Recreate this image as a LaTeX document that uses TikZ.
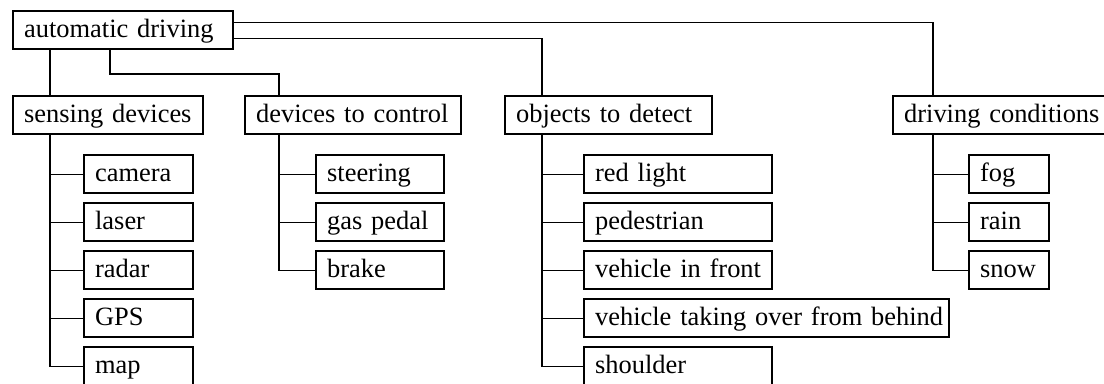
\documentclass[tikz,border=0pt]{standalone}
\usepackage{fontspec}
\setmainfont{Liberation Serif}

\tikzset{
  box/.style={draw, line width=1.6pt, text width=#1, align=left, anchor=north west,
    inner xsep=0.275cm, inner ysep=0pt, minimum height=0.95cm,
    text height=0.5cm, text depth=0.15cm, font=\fontsize{18.8}{22}\selectfont},
  link/.style={line width=0.9pt}
}

\begin{document}
\begin{tikzpicture}[x=0.025cm, y=-0.025cm]
\useasboundingbox (0,0) rectangle (1104,383);

% Root
\node[box=4.95cm] (root) at (12,10) {automatic driving};

% Categories
\node[box=4.2cm] (sens) at (12,95) {sensing devices};
\node[box=4.85cm] (dev) at (244,95) {devices to control};
\node[box=4.625cm] (obj) at (504,95) {objects to detect};
\node[box=4.9cm] (cond) at (892,95) {\mbox{driving conditions}};

% Sensing devices
\node[box=2.175cm] (camera) at (83,154) {camera};
\node[box=2.175cm] (laser) at (83,202) {laser};
\node[box=2.175cm] (radar) at (83,250) {radar};
\node[box=2.175cm] (gps) at (83,298) {GPS};
\node[box=2.175cm] (map) at (83,346) {map};

% Devices to control
\node[box=2.65cm] (steering) at (315,154) {steering};
\node[box=2.65cm] (pedal) at (315,202) {gas pedal};
\node[box=2.65cm] (brake) at (315,250) {brake};

% Objects to detect
\node[box=4.15cm] (redlight) at (583,154) {red light};
\node[box=4.15cm] (pedestrian) at (583,202) {pedestrian};
\node[box=4.15cm] (front) at (583,250) {\mbox{vehicle in front}};
\node[box=8.575cm] (behind) at (583,298) {\mbox{vehicle taking over from behind}};
\node[box=4.15cm] (shoulder) at (583,346) {shoulder};

% Driving conditions
\node[box=1.45cm] (fog) at (968,154) {fog};
\node[box=1.45cm] (rain) at (968,202) {rain};
\node[box=1.45cm] (snow) at (968,250) {\mbox{snow}};

% Trunks and bends
\coordinate (sensTrunk) at (50,0);
\coordinate (devTrunk) at (279,0);
\coordinate (objTrunk) at (542,0);
\coordinate (condTrunk) at (933,0);
\coordinate (devBend) at (110,74);
\coordinate (objBend) at (542,38.3);
\coordinate (condBend) at (933,22.7);

% Root to categories
\draw[link] (root.south -| sensTrunk) -- (sens.north -| sensTrunk);
\draw[link] (root.south -| devBend) -- (devBend) -| (dev.north -| devTrunk);
\draw[link] (root.east |- objBend) -- (objBend) -- (obj.north -| objBend);
\draw[link] (root.east |- condBend) -- (condBend) -- (cond.north -| condBend);

% Sensing devices links
\draw[link] (sens.south -| sensTrunk) |- (map.west);
\draw[link] (camera.west -| sensTrunk) -- (camera.west);
\draw[link] (laser.west -| sensTrunk) -- (laser.west);
\draw[link] (radar.west -| sensTrunk) -- (radar.west);
\draw[link] (gps.west -| sensTrunk) -- (gps.west);

% Devices to control links
\draw[link] (dev.south -| devTrunk) |- (brake.west);
\draw[link] (steering.west -| devTrunk) -- (steering.west);
\draw[link] (pedal.west -| devTrunk) -- (pedal.west);

% Objects to detect links
\draw[link] (obj.south -| objTrunk) |- (shoulder.west);
\draw[link] (redlight.west -| objTrunk) -- (redlight.west);
\draw[link] (pedestrian.west -| objTrunk) -- (pedestrian.west);
\draw[link] (front.west -| objTrunk) -- (front.west);
\draw[link] (behind.west -| objTrunk) -- (behind.west);

% Driving conditions links
\draw[link] (cond.south -| condTrunk) |- (snow.west);
\draw[link] (fog.west -| condTrunk) -- (fog.west);
\draw[link] (rain.west -| condTrunk) -- (rain.west);

\end{tikzpicture}
\end{document}
